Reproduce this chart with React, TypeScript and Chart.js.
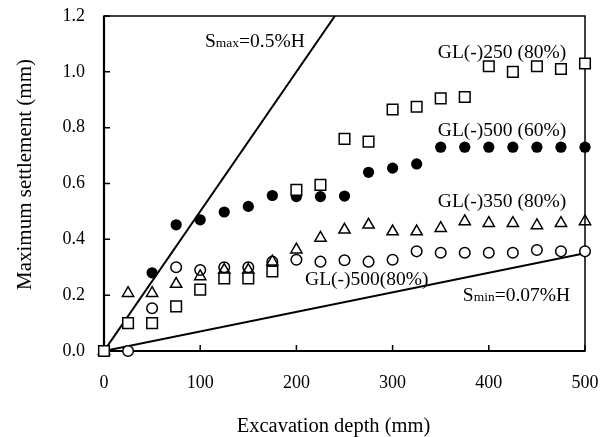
import React, { useEffect, useRef } from 'react';
import { Chart, registerables } from 'chart.js';

Chart.register(...registerables);

// ---- data ----
const depths = [0, 25, 50, 75, 100, 125, 150, 175, 200, 225, 250, 275, 300, 325, 350, 375, 400, 425, 450, 475, 500];
const gl250_80 = [0, 0.10, 0.10, 0.16, 0.22, 0.26, 0.26, 0.285, 0.577, 0.595, 0.76, 0.75, 0.865, 0.875, 0.905, 0.91, 1.02, 1.0, 1.02, 1.01, 1.03];
const gl500_60 = [0, null, 0.28, 0.452, 0.47, 0.498, 0.518, 0.557, 0.553, 0.553, 0.555, 0.64, 0.655, 0.67, 0.73, 0.73, 0.73, 0.73, 0.73, 0.73, 0.73];
const gl350_80 = [0, 0.207, 0.207, 0.24, 0.267, 0.29, 0.29, 0.32, 0.363, 0.405, 0.434, 0.452, 0.428, 0.428, 0.44, 0.464, 0.458, 0.458, 0.45, 0.458, 0.464];
const gl500_80 = [0, 0, 0.153, 0.30, 0.29, 0.30, 0.30, 0.32, 0.327, 0.32, 0.325, 0.32, 0.327, 0.357, 0.352, 0.352, 0.352, 0.352, 0.362, 0.357, 0.357];

const smaxDepth = [0, 240];
const smaxSettle = [0, 1.2];
const sminDepth = [0, 500];
const sminSettle = [0, 0.35];

const xTicks = [0, 100, 200, 300, 400, 500];
const yTicks = [0, 0.2, 0.4, 0.6, 0.8, 1.0, 1.2];

const xTitle = 'Excavation depth (mm)';
const yTitle = 'Maximum settlement (mm)';

// annotation labels: text segments (main / small), anchored in data units (left edge, vertical centre)
const labelTexts = [
  [['S', 'big'], ['max', 'small'], ['=0.5%H', 'big']],
  [['GL(-)250 (80%)', 'big']],
  [['GL(-)500 (60%)', 'big']],
  [['GL(-)350 (80%)', 'big']],
  [['GL(-)500(80%)', 'big']],
  [['S', 'big'], ['min', 'small'], ['=0.07%H', 'big']],
];
const labelDepth = [105, 347, 347, 347, 209, 373];
const labelSettle = [1.113, 1.074, 0.794, 0.539, 0.259, 0.201];

const FONT = "'Liberation Serif', 'Times New Roman', serif";

function pts(xs: number[], ys: (number | null)[]) {
  const out: { x: number; y: number }[] = [];
  xs.forEach((x, i) => {
    const y = ys[i];
    if (y !== null && y !== undefined) out.push({ x, y });
  });
  return out;
}

const decor = {
  id: 'decor',
  beforeDatasetsDraw(chart: any) {
    const { ctx, chartArea, scales } = chart;
    const { left, right, top, bottom } = chartArea;
    ctx.save();
    ctx.strokeStyle = '#000';
    ctx.lineWidth = 1.5;
    ctx.strokeRect(left, top, right - left, bottom - top);
    ctx.lineWidth = 2.2;
    ctx.beginPath();
    ctx.moveTo(left, top);
    ctx.lineTo(left, bottom);
    ctx.lineTo(right, bottom);
    ctx.stroke();
    ctx.lineWidth = 1.5;
    ctx.beginPath();
    yTicks.forEach((v) => {
      const py = scales.y.getPixelForValue(v);
      ctx.moveTo(left, py);
      ctx.lineTo(left + 6, py);
    });
    xTicks.forEach((v) => {
      const px = scales.x.getPixelForValue(v);
      ctx.moveTo(px, bottom);
      ctx.lineTo(px, bottom - 6);
    });
    ctx.stroke();
    ctx.restore();
  },
  afterDatasetsDraw(chart: any) {
    const { ctx, chartArea, scales } = chart;
    const { left, right, top, bottom } = chartArea;
    ctx.save();
    ctx.fillStyle = '#000';
    ctx.textBaseline = 'alphabetic';
    ctx.textAlign = 'left';
    labelTexts.forEach((segs, i) => {
      let x = scales.x.getPixelForValue(labelDepth[i]);
      const yc = scales.y.getPixelForValue(labelSettle[i]);
      const base = yc + 6.5;
      segs.forEach(([t, kind]) => {
        ctx.font = (kind === 'big' ? '19.5px ' : '13.5px ') + FONT;
        ctx.fillText(t, x, base);
        x += ctx.measureText(t).width;
      });
    });
    // axis titles
    ctx.font = '20.5px ' + FONT;
    ctx.textAlign = 'center';
    ctx.textBaseline = 'middle';
    ctx.fillText(xTitle, (left + right) / 2 - 11, 427);
    ctx.translate(25, (top + bottom) / 2 - 9);
    ctx.rotate(-Math.PI / 2);
    ctx.font = '21px ' + FONT;
    ctx.fillText(yTitle, 0, 0);
    ctx.restore();
  },
};

function noPad(s: any) {
  s.paddingTop = 0;
  s.paddingBottom = 0;
  s.paddingLeft = 0;
  s.paddingRight = 0;
}

export default function App() {
  const ref = useRef<HTMLCanvasElement | null>(null);
  useEffect(() => {
    if (!ref.current) return;
    const chart = new Chart(ref.current, {
      type: 'scatter',
      data: {
        datasets: [
          {
            label: 'GL(-)250 (80%)',
            data: pts(depths, gl250_80),
            pointStyle: 'rect',
            pointRadius: 7.5,
            pointBorderWidth: 1.5,
            pointBorderColor: '#000',
            pointBackgroundColor: '#fff',
            showLine: false,
            clip: false,
            order: 0,
          },
          {
            label: 'GL(-)350 (80%)',
            data: pts(depths, gl350_80),
            pointStyle: 'triangle',
            pointRadius: 6.5,
            pointBorderWidth: 1.5,
            pointBorderColor: '#000',
            pointBackgroundColor: 'rgba(255,255,255,0)',
            showLine: false,
            clip: false,
            order: 1,
          },
          {
            label: 'GL(-)500(80%)',
            data: pts(depths, gl500_80),
            pointStyle: 'circle',
            pointRadius: 5.3,
            pointBorderWidth: 1.5,
            pointBorderColor: '#000',
            pointBackgroundColor: '#fff',
            showLine: false,
            clip: false,
            order: 2,
          },
          {
            label: 'GL(-)500 (60%)',
            data: pts(depths, gl500_60),
            pointStyle: 'circle',
            pointRadius: 5.6,
            pointBorderWidth: 0,
            pointBorderColor: '#000',
            pointBackgroundColor: '#000',
            showLine: false,
            clip: false,
            order: 3,
          },
          {
            label: 'Smax',
            data: pts(smaxDepth, smaxSettle),
            showLine: true,
            borderColor: '#000',
            borderWidth: 2,
            pointRadius: 0,
            order: 4,
          },
          {
            label: 'Smin',
            data: pts(sminDepth, sminSettle),
            showLine: true,
            borderColor: '#000',
            borderWidth: 2,
            pointRadius: 0,
            order: 5,
          },
        ],
      },
      options: {
        animation: false,
        responsive: true,
        maintainAspectRatio: false,
        layout: { padding: { top: 16, right: 23, left: 0, bottom: 0 } },
        plugins: { legend: { display: false }, tooltip: { enabled: false } },
        scales: {
          x: {
            type: 'linear',
            min: 0,
            max: 500,
            afterBuildTicks: (s: any) => { s.ticks = xTicks.map((v) => ({ value: v })); },
            afterFit: (s: any) => { s.height = 86; noPad(s); },
            grid: { display: false, drawTicks: false },
            border: { display: false },
            ticks: { color: '#000', font: { family: FONT, size: 18 }, padding: 21, maxRotation: 0 },
          },
          y: {
            type: 'linear',
            min: 0,
            max: 1.2,
            afterBuildTicks: (s: any) => { s.ticks = yTicks.map((v) => ({ value: v })); },
            afterFit: (s: any) => { s.width = 104; noPad(s); },
            grid: { display: false, drawTicks: false },
            border: { display: false },
            ticks: {
              color: '#000',
              font: { family: FONT, size: 18 },
              padding: 19,
              callback: (v: any) => Number(v).toFixed(1),
            },
          },
        },
      },
      plugins: [decor],
    } as any);
    return () => chart.destroy();
  }, []);
  return (
    <div style={{ position: 'fixed', left: 0, top: 0, width: 608, height: 437, background: '#fff' }}>
      <canvas ref={ref} />
    </div>
  );
}
